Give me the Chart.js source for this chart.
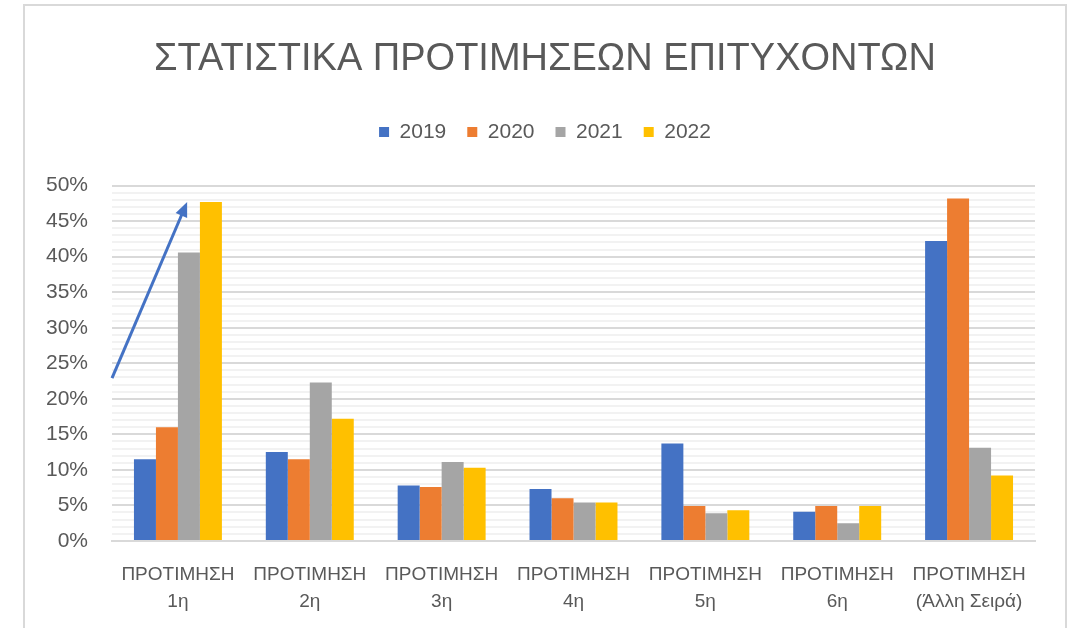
<!DOCTYPE html>
<html>
<head>
<meta charset="utf-8">
<title>ΣΤΑΤΙΣΤΙΚΑ ΠΡΟΤΙΜΗΣΕΩΝ ΕΠΙΤΥΧΟΝΤΩΝ</title>
<script src="https://cdn.jsdelivr.net/npm/chart.js@4.4.0/dist/chart.umd.min.js"></script>
<style>
  html, body { margin: 0; padding: 0; background: #fff; overflow: hidden; }
  #frame { position: absolute; left: 23px; top: 4px; width: 1044px; height: 700px; border: 2px solid #d9d9d9; box-sizing: border-box; }
  #chart { position: absolute; left: 0; top: 0; }
</style>
</head>
<body>
<div id="frame"></div>
<canvas id="chart" width="1074" height="628"></canvas>
<script>
  const categories = [
    ['ΠΡΟΤΙΜΗΣΗ', '1η'],
    ['ΠΡΟΤΙΜΗΣΗ', '2η'],
    ['ΠΡΟΤΙΜΗΣΗ', '3η'],
    ['ΠΡΟΤΙΜΗΣΗ', '4η'],
    ['ΠΡΟΤΙΜΗΣΗ', '5η'],
    ['ΠΡΟΤΙΜΗΣΗ', '6η'],
    ['ΠΡΟΤΙΜΗΣΗ', '(Άλλη Σειρά)']
  ];
  const years = ['2019', '2020', '2021', '2022'];
  const values2019 = [11.5, 12.5, 7.8, 7.3, 13.7, 4.1, 42.2];
  const values2020 = [16.0, 11.5, 7.6, 6.0, 4.9, 4.9, 48.2];
  const values2021 = [40.6, 22.3, 11.1, 5.4, 3.9, 2.5, 13.1];
  const values2022 = [47.7, 17.2, 10.3, 5.4, 4.3, 4.9, 9.2];
  const colors = ['#4472C4', '#ED7D31', '#A5A5A5', '#FFC000'];
  const yMax = 50;
  const majorStep = 5;

  // arrow drawn over the first group: [category index, percent]
  const arrowFrom = [-0.5, 22.9];
  const arrowTo = [0.07, 47.7];

  const textColor = '#595959';
  const font = "'Liberation Sans', Arial, sans-serif";

  const arrowPlugin = {
    id: 'arrow',
    afterDatasetsDraw(chart) {
      const x = chart.scales.x, y = chart.scales.y, ctx = chart.ctx;
      const x1 = x.getPixelForValue(arrowFrom[0]), y1 = y.getPixelForValue(arrowFrom[1]);
      const x2 = x.getPixelForValue(arrowTo[0]), y2 = y.getPixelForValue(arrowTo[1]);
      const ang = Math.atan2(y2 - y1, x2 - x1);
      const head = 16;
      ctx.save();
      ctx.strokeStyle = '#4472C4';
      ctx.fillStyle = '#4472C4';
      ctx.lineWidth = 3;
      ctx.beginPath();
      ctx.moveTo(x1, y1);
      ctx.lineTo(x2 - Math.cos(ang) * head * 0.8, y2 - Math.sin(ang) * head * 0.8);
      ctx.stroke();
      ctx.beginPath();
      ctx.moveTo(x2, y2);
      ctx.lineTo(x2 - head * Math.cos(ang - 0.4), y2 - head * Math.sin(ang - 0.4));
      ctx.lineTo(x2 - head * Math.cos(ang + 0.4), y2 - head * Math.sin(ang + 0.4));
      ctx.closePath();
      ctx.fill();
      ctx.restore();
    }
  };

  // extra room under the legend, like the gap in the original
  const legendGap = {
    id: 'legendGap',
    beforeInit(chart) {
      const fit = chart.legend.fit;
      chart.legend.fit = function () {
        fit.bind(chart.legend)();
        this.height += 33;
      };
    }
  };

  const seriesValues = [values2019, values2020, values2021, values2022];
  const datasets = years.map((year, i) => ({
    label: year,
    data: seriesValues[i],
    backgroundColor: colors[i],
    borderWidth: 0,
    categoryPercentage: 0.667,
    barPercentage: 1.0
  }));

  const ctx = document.getElementById('chart').getContext('2d');
  const chart = new Chart(ctx, {
    type: 'bar',
    data: { labels: categories, datasets: datasets },
    options: {
      responsive: false,
      animation: false,
      layout: { padding: { left: 24, right: 8, top: 0, bottom: 0 } },
      plugins: {
        tooltip: { enabled: false },
        title: {
          display: true,
          text: 'ΣΤΑΤΙΣΤΙΚΑ ΠΡΟΤΙΜΗΣΕΩΝ ΕΠΙΤΥΧΟΝΤΩΝ',
          color: textColor,
          font: { family: font, size: 38, weight: 'normal' },
          padding: { top: 37, bottom: 18 }
        },
        legend: {
          position: 'top',
          labels: {
            color: textColor,
            font: { family: font, size: 21 },
            boxWidth: 10,
            boxHeight: 10,
            padding: 21
          }
        }
      },
      scales: {
        x: {
          grid: { display: false },
          border: { color: '#d9d9d9', width: 2 },
          ticks: {
            color: textColor,
            font: { family: font, size: 19, lineHeight: 1.45 },
            maxRotation: 0,
            autoSkip: false,
            padding: 12
          }
        },
        y: {
          min: 0,
          max: yMax,
          border: { display: false },
          grid: {
            drawTicks: false,
            lineWidth: 2,
            color: c => (c.tick && c.tick.value % majorStep === 0) ? '#d9d9d9' : '#f2f2f2'
          },
          ticks: {
            stepSize: 1,
            maxTicksLimit: 100,
            autoSkip: false,
            color: textColor,
            font: { family: font, size: 21 },
            padding: 24,
            callback: v => (v % majorStep === 0) ? v + '%' : ''
          },
          afterFit(scale) { scale.width = 88; }
        },
        spacer: {
          type: 'linear',
          position: 'right',
          display: true,
          grid: { display: false },
          border: { display: false },
          ticks: { display: false },
          afterFit(scale) { scale.width = 31; }
        }
      }
    },
    plugins: [arrowPlugin, legendGap]
  });
</script>
</body>
</html>
